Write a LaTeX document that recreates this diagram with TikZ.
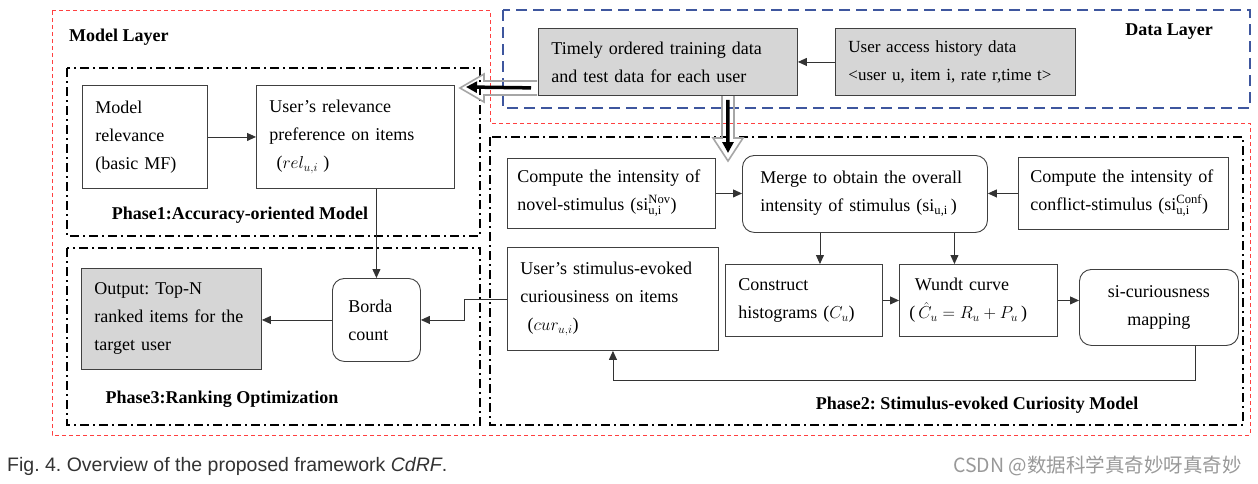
\documentclass[tikz,border=0pt]{standalone}
\usepackage{amsmath}
\usepackage{fontspec}
\setmainfont{Liberation Serif}
\newfontfamily\capfont{Liberation Sans}
\newfontfamily\cjkfont{Noto Sans CJK SC}
\usetikzlibrary{arrows.meta}
\definecolor{layerBlue}{RGB}{62,86,158}
\frenchspacing

\begin{document}
\begin{tikzpicture}[
        x=1pt, y=-1pt,
        box/.style={draw=black!75, line width=0.9pt, anchor=north west, align=left, inner xsep=13pt, inner ysep=2pt, font=\fontsize{18pt}{28pt}\selectfont},
        grayBox/.style={box, fill=black!16},
        roundBox/.style={box, rounded corners=12pt},
        arrow/.style={-{Triangle[length=9pt,width=8pt]}, line width=0.9pt, draw=black!80},
        title/.style={font=\bfseries\fontsize{18pt}{22pt}\selectfont, inner sep=0pt},
        modelLayer/.style={draw=red!75, line width=0.8pt, dash pattern=on 4pt off 3pt},
        dataLayer/.style={draw=layerBlue, line width=1.5pt, dash pattern=on 11pt off 6pt},
        phase/.style={draw=black, line width=1.6pt, dash pattern=on 9pt off 4pt on 2pt off 4pt},
        hollow/.style={draw=black!35, line width=1.6pt, line join=miter},
        bigArrow/.style={-{Triangle[length=11pt,width=11pt]}, line width=3.5pt}
    ]
    \useasboundingbox[fill=white] (0,0) rectangle (1258,483);

    % layers and phases
    \draw[modelLayer] (52,10) -- (490,10) -- (490,123) -- (1250,123) -- (1250,435) -- (52,435) -- cycle;
    \draw[dataLayer] (503,10) rectangle (1250,108);
    \draw[phase] (67,68) rectangle (480,236);
    \draw[phase] (67,248) rectangle (480,425);
    \draw[phase] (490,137) rectangle (1243,425);

    \node[title, anchor=west] (modelTitle) at (69,37) {Model Layer};
    \node[title] (dataTitle) at (1169,32) {Data Layer};
    \node[title] (phaseOne) at (240,215) {Phase1:Accuracy-oriented Model};
    \node[title] (phaseThree) at (222,399) {Phase3:Ranking Optimization};
    \node[title] (phaseTwo) at (977,405) {Phase2: Stimulus-evoked Curiosity Model};

    % data layer
    \node[grayBox, text width=233pt, minimum height=67pt] (train) at (538,28) {Timely ordered training data\\and test data for each user};
    \node[grayBox, text width=214pt, minimum height=67pt, font=\fontsize{17pt}{28pt}\selectfont] (history) at (835,28) {User access history data\\<user u, item i, rate r,time t>};

    % phase 1
    \node[box, text width=99pt, minimum height=103pt] (mrel) at (82,85) {Model\\relevance\\(basic MF)};
    \node[box, text width=172pt, minimum height=103pt] (urel) at (256,85) {User's relevance\\preference on items\\\hspace{0.4em}($rel_{u,i}$\hspace{0.3em})};

    % phase 3
    \node[grayBox, text width=154pt, minimum height=101pt] (output) at (81,268) {Output: Top-N\\ranked items for the\\target user};
    \node[roundBox, inner xsep=16pt, text width=56pt, minimum height=83pt] (borda) at (332,278) {Borda\\count};

    % phase 2
    \node[box, inner xsep=10pt, text width=188pt, minimum height=70pt] (novel) at (507,158) {Compute the intensity of\\novel-stimulus ($\textrm{si}^{\textrm{Nov}}_{\textrm{u,i}}$)};
    \node[roundBox, inner xsep=18pt, text width=209pt, minimum height=77pt] (merge) at (742,155) {Merge to obtain the overall\\intensity of stimulus ($\textrm{si}_{\textrm{u,i}}$\,)};
    \node[box, inner xsep=8pt, text width=194pt, minimum height=72pt] (conflict) at (1018,157) {\hspace{4pt}Compute the intensity of\\\hspace{4pt}conflict-stimulus ($\textrm{si}^{\textrm{Conf}}_{\textrm{u,i}}$)};
    \node[box, text width=185pt, minimum height=103pt] (curious) at (507,247) {User's stimulus-evoked\\curiousiness on items\\\hspace{0.4em}($cur_{u,i}$)};
    \node[box, text width=131pt, minimum height=72pt] (histo) at (725,264) {Construct\\histograms ($C_u$)};
    \node[box, inner xsep=10pt, text width=138pt, minimum height=72pt] (wundt) at (899,264) {\hspace{0.3em}Wundt curve\\(\,$\hat{C}_u=R_u+P_u$\,)};
    \node[roundBox, align=center, text width=133pt, minimum height=76pt] (mapping) at (1079,269) {si-curiousness\\mapping};

    % connectors
    \draw[arrow] (history.west) -- (train.east);
    \draw[arrow] (mrel.east) -- (urel.west);
    \draw[arrow] (borda.north |- urel.south) -- (borda.north);
    \draw[arrow] (borda.west) -- (borda.west -| output.east);
    \draw[arrow] (curious.west) -- ++(-43,0) |- (borda.east);
    \draw[arrow] (novel.east) -- (novel.east -| merge.west);
    \draw[arrow] (conflict.west) -- (conflict.west -| merge.east);
    \draw[arrow] ([xshift=16pt]histo.north |- merge.south) -- ([xshift=16pt]histo.north);
    \draw[arrow] ([xshift=-24pt]wundt.north |- merge.south) -- ([xshift=-24pt]wundt.north);
    \draw[arrow] (histo.east) -- (wundt.west);
    \draw[arrow] (wundt.east) -- (wundt.east -| mapping.west);
    \draw[arrow] ([xshift=36pt]mapping.south) -- ++(0,35) -| (curious.south);

    % hollow block arrows between layers
    \draw[hollow] (537,81) -- (484,81) -- (484,74) -- (460,88) -- (484,102) -- (484,95) -- (537,95);
    \draw[hollow] (722,96) -- (722,138) -- (713,138) -- (728,161) -- (743,138) -- (734,138) -- (734,96);
    \coordinate (leftTip) at (466,87);
    \coordinate (downTip) at (728,153);
    \draw[bigArrow, shorten <=7pt] ([yshift=-26pt]train.west) -- (leftTip);
    \draw[bigArrow, shorten <=4pt] ([xshift=60pt]train.south) -- (downTip);

    % caption
    \node[anchor=west, inner sep=0pt, text=black!80, font=\capfont\fontsize{19.5pt}{22pt}\selectfont] (caption) at (7,466) {Fig. 4. Overview of the proposed framework \textit{CdRF}.};
    \node[anchor=east, inner sep=0pt, text=black!40, font=\cjkfont\fontsize{19.5pt}{22pt}\selectfont] (mark) at (1242,466) {CSDN @数据科学真奇妙呀真奇妙};

\end{tikzpicture}
\end{document}
